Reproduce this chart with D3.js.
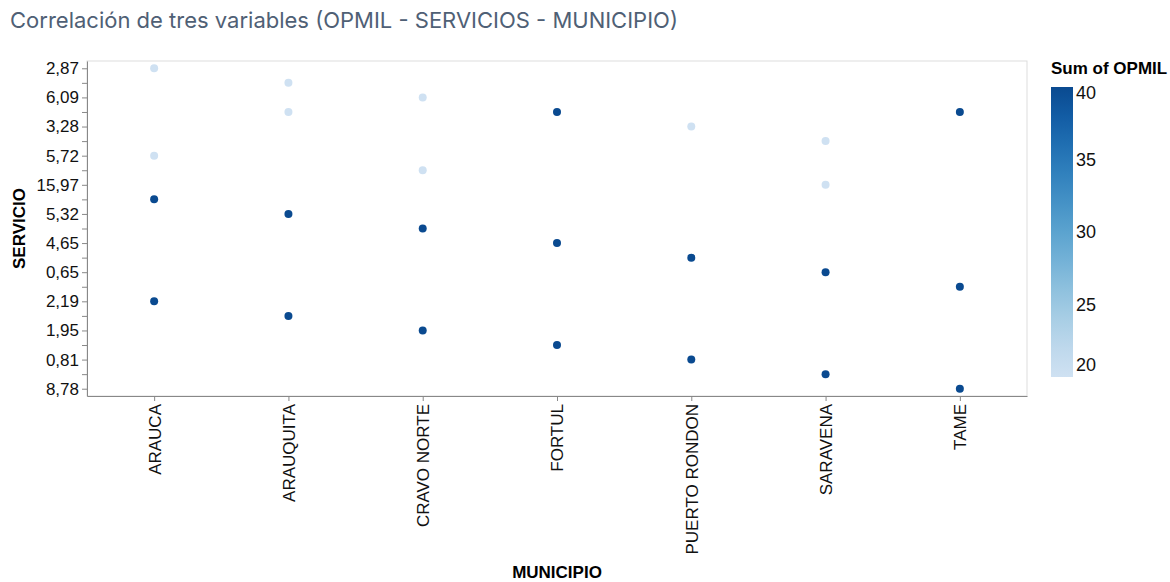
<!DOCTYPE html>
<html>
<head>
<meta charset="utf-8">
<script src="https://cdn.jsdelivr.net/npm/d3@7"></script>
<style>
  body { margin: 0; background: #fff; }
  svg text { font-family: "Liberation Sans", Arial, sans-serif; }
  .title { font-family: Inter, "Open Sans", sans-serif; }
</style>
</head>
<body>
<div id="chart"></div>
<script>
// municipios on x
const municipios = ["ARAUCA", "ARAUQUITA", "CRAVO NORTE", "FORTUL", "PUERTO RONDON", "SARAVENA", "TAME"];
// servicio categories, top to bottom (odd ones have hidden labels in the original)
const servicios = ["2,87", "4,31", "6,09", "0,00", "3,28", "2,44", "5,72", "3,63", "15,97", "7,18", "5,32", "1,38",
  "4,65", "9,04", "0,65", "6,52", "2,19", "1,12", "1,95", "3,05", "0,81", "0,47", "8,78"];
// points: municipio, servicio, sum of opmil
const ptMunicipio = ["ARAUCA", "ARAUCA", "ARAUCA", "ARAUCA",
  "ARAUQUITA", "ARAUQUITA", "ARAUQUITA", "ARAUQUITA",
  "CRAVO NORTE", "CRAVO NORTE", "CRAVO NORTE", "CRAVO NORTE",
  "FORTUL", "FORTUL", "FORTUL",
  "PUERTO RONDON", "PUERTO RONDON", "PUERTO RONDON",
  "SARAVENA", "SARAVENA", "SARAVENA", "SARAVENA",
  "TAME", "TAME", "TAME"];
const ptServicio = ["2,87", "5,72", "7,18", "2,19",
  "4,31", "0,00", "5,32", "1,12",
  "6,09", "3,63", "1,38", "1,95",
  "0,00", "4,65", "3,05",
  "3,28", "9,04", "0,81",
  "2,44", "15,97", "0,65", "0,47",
  "0,00", "6,52", "8,78"];
const ptOpmil = [20, 20, 40, 40,
  20, 20, 40, 40,
  20, 20, 40, 40,
  40, 40, 40,
  20, 40, 40,
  20, 20, 40, 40,
  40, 40, 40];
const legendTicks = [20, 25, 30, 35, 40];
const blues = ["#cfe1f2", "#bed8ec", "#a8cee5", "#8fc1de", "#74b2d7", "#5ba3cf", "#4592c6", "#3181bd", "#206fb2", "#125ca4", "#0a4a90"];

const W = 1170, H = 582;
const P = { left: 87, right: 1027, top: 61, bottom: 396 };

const svg = d3.select("#chart").append("svg").attr("width", W).attr("height", H);

const x = d3.scalePoint().domain(municipios).range([P.left, P.right]).padding(0.5);
const y = d3.scalePoint().domain(servicios).range([P.top, P.bottom]).padding(0.5);
const color = d3.scaleSequential(d3.interpolateRgbBasis(blues)).domain([20, 40]);

svg.append("text").attr("class", "title").attr("x", 10).attr("y", 28)
  .attr("fill", "#4f6075").style("font-size", "22px")
  .text("Correlación de tres variables (OPMIL - SERVICIOS - MUNICIPIO)");

// plot frame
svg.append("rect").attr("x", P.left).attr("y", P.top)
  .attr("width", P.right - P.left).attr("height", P.bottom - P.top)
  .attr("fill", "none").attr("stroke", "#ddd");

const ax = svg.append("g").attr("transform", `translate(${P.left},0)`)
  .call(d3.axisLeft(y).tickSize(5).tickSizeOuter(0).tickPadding(3).tickFormat((d, i) => i % 2 === 0 ? d : ""));
ax.select(".domain").attr("stroke", "#888");
ax.selectAll(".tick line").attr("stroke", "#888");
ax.selectAll("text").style("font-size", "17px").attr("fill", "#111").style("font-family", "Liberation Sans, Arial, sans-serif");

const bx = svg.append("g").attr("transform", `translate(0,${P.bottom})`)
  .call(d3.axisBottom(x).tickSize(5).tickSizeOuter(0));
bx.select(".domain").attr("stroke", "#888");
bx.selectAll(".tick line").attr("stroke", "#888");
bx.selectAll("text").attr("transform", "rotate(-90)").attr("text-anchor", "end")
  .attr("x", -8).attr("y", 0).attr("dy", "0.35em")
  .style("font-size", "17px").attr("fill", "#111").style("font-family", "Liberation Sans, Arial, sans-serif");

svg.append("text").attr("transform", `translate(25,${(P.top + P.bottom) / 2}) rotate(-90)`)
  .attr("text-anchor", "middle").style("font-size", "17px").style("font-weight", "bold")
  .text("SERVICIO");
svg.append("text").attr("x", (P.left + P.right) / 2).attr("y", 578)
  .attr("text-anchor", "middle").style("font-size", "17px").style("font-weight", "bold")
  .text("MUNICIPIO");

svg.append("g").selectAll("circle").data(ptMunicipio.map((m, i) => ({ m, s: ptServicio[i], v: ptOpmil[i] })))
  .join("circle")
  .attr("cx", d => x(d.m)).attr("cy", d => y(d.s)).attr("r", 4)
  .attr("fill", d => color(d.v));

// legend
const L = { x: 1051, top: 87, bottom: 377, w: 22 };
const defs = svg.append("defs");
const grad = defs.append("linearGradient").attr("id", "lg").attr("x1", 0).attr("x2", 0).attr("y1", 1).attr("y2", 0);
blues.forEach((c, i) => grad.append("stop").attr("offset", i / (blues.length - 1)).attr("stop-color", c));
svg.append("text").attr("x", L.x).attr("y", 74).style("font-size", "17px").style("font-weight", "bold")
  .text("Sum of OPMIL");
svg.append("rect").attr("x", L.x).attr("y", L.top).attr("width", L.w).attr("height", L.bottom - L.top)
  .attr("fill", "url(#lg)");
const ly = d3.scaleLinear().domain([20, 40]).range([L.bottom, L.top]);
svg.append("g").selectAll("text").data(legendTicks).join("text")
  .attr("x", L.x + L.w + 3)
  .attr("y", d => d === 40 ? ly(d) + 6 : d === 20 ? ly(d) - 12 : ly(d))
  .attr("dy", "0.35em")
  .style("font-size", "18px").attr("fill", "#111")
  .text(d => d);
</script>
</body>
</html>
